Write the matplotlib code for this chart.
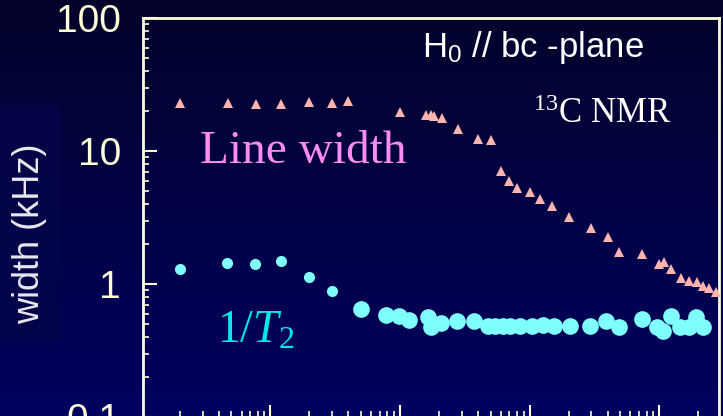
import matplotlib
matplotlib.use('Agg')
import matplotlib.pyplot as plt
import numpy as np
from matplotlib.patches import Rectangle

plt.rcParams['mathtext.fontset'] = 'custom'
plt.rcParams['mathtext.rm'] = 'Liberation Serif'
plt.rcParams['mathtext.it'] = 'Liberation Serif:italic'
plt.rcParams['mathtext.sf'] = 'Liberation Sans'

# line width (triangles)
lw_temp = [0.02, 0.047, 0.077, 0.12, 0.2, 0.3, 0.4, 1.0, 1.6, 1.75, 1.83, 2.1, 2.8,
           4.0, 5.0, 6.0, 7.0, 8.0, 10, 12, 15, 20, 30, 40, 49, 74, 99, 109, 123,
           148, 171, 195, 220, 244, 275]
lw_width = [22.8, 22.8, 22.4, 22.4, 23.2, 22.8, 23.6, 19.7, 18.8, 18.5, 18.3, 17.6, 14.6,
            12.3, 12.1, 7.1, 6.0, 5.3, 4.9, 4.33, 3.86, 3.21, 2.65, 2.24, 1.75, 1.68, 1.41,
            1.47, 1.30, 1.11, 1.05, 1.03, 0.97, 0.94, 0.87]

# 1/T2 (circles), small markers at low T
t2_temp_lo = [0.02, 0.046, 0.076, 0.12, 0.2, 0.3]
t2_rate_lo = [1.29, 1.45, 1.41, 1.50, 1.13, 0.886]
t2_temp_hi = [0.5, 0.78, 0.99, 1.17, 1.65, 1.73, 2.07, 2.74, 3.76,
              4.78, 5.42, 6.24, 7.07, 8.45, 10.5, 12.7, 15.5, 20.5, 29.3,
              39.0, 49.1, 73.5, 97.0, 107, 123, 145, 171, 193, 220]
t2_rate_hi = [0.649, 0.585, 0.574, 0.536, 0.562, 0.472, 0.507, 0.527, 0.523,
              0.48, 0.48, 0.486, 0.486, 0.486, 0.486, 0.49, 0.486, 0.486, 0.486,
              0.530, 0.478, 0.546, 0.478, 0.446, 0.575, 0.478, 0.478, 0.562, 0.478]

y_ticks = [0.1, 1, 10, 100]
y_ticklabels = ['0.1', '1', '10', '100']

W, H = 723, 416
fig = plt.figure(figsize=(W / 100, H / 100), dpi=100)

# gradient background
bg = fig.add_axes([0, 0, 1, 1], zorder=-2)
top = np.array([3, 3, 42]) / 255
bot = np.array([0, 0, 96]) / 255
t = np.linspace(0, 1, 256)[:, None]
grad = top + (bot - top) * t
bg.imshow(grad[:, None, :].repeat(2, axis=1), aspect='auto', extent=[0, 1, 0, 1])
bg.set_xlim(0, 1)
bg.set_ylim(0, 1)
bg.axis('off')
bg.add_patch(Rectangle((0, 1 - 342 / H), 61 / W, (342 - 105) / H,
                       facecolor='#05054a', edgecolor='none', alpha=0.8))

ax = fig.add_axes([143 / W, -1 / H, (719 - 143) / W, (417 - 18) / H])
ax.patch.set_alpha(0)
ax.set_xscale('log')
ax.set_yscale('log')
ax.set_xlim(0.0104, 290)
ax.set_ylim(0.1, 100)

ax.plot(lw_temp, lw_width, '^', color='#ffb4b0', ms=7.5, mew=0, zorder=3)
ax.plot(t2_temp_lo, t2_rate_lo, 'o', color='#80ffff', ms=8, mew=0, zorder=3)
ax.plot(t2_temp_hi, t2_rate_hi, 'o', color='#80ffff', ms=12, mew=0, zorder=3)

cream = '#fffcd8'
for s in ax.spines.values():
    s.set_color(cream)
    s.set_linewidth(2)
ax.set_yticks(y_ticks)
ax.set_yticklabels(y_ticklabels)
ax.tick_params(axis='y', which='major', direction='in', length=10, width=1.5,
               color=cream, labelcolor=cream, labelsize=28, pad=16)
ax.tick_params(axis='y', which='minor', direction='in', length=4.5, width=1.2, color=cream)
# x tick labels fall below the cropped picture
ax.tick_params(axis='x', which='major', direction='in', length=9, width=1.5,
               color=cream, labelbottom=False)
ax.tick_params(axis='x', which='minor', direction='in', length=4, width=1.2, color=cream)
for lab in ax.get_yticklabels():
    lab.set_fontfamily('Liberation Sans')

fig.text(30 / W, 1 - 234 / H, 'width (kHz)', rotation=90, color='#e8e8ee',
         fontsize=26, family='Liberation Sans', ha='center', va='center')

fig.text(422 / W, 1 - 57 / H, r'H$_\mathsf{0}$ // bc -plane', color='white',
         fontsize=25, family='Liberation Sans', ha='left', va='baseline')
fig.text(533 / W, 1 - 123 / H, r'$^{13}$C NMR', color='white',
         fontsize=25, family='Liberation Serif', ha='left', va='baseline')
fig.text(200 / W, 1 - 163 / H, 'Line width', color='#ff8cf0',
         fontsize=34, family='Liberation Serif', ha='left', va='baseline')
fig.text(217 / W, 1 - 343 / H, r'1/$\mathit{T}_\mathrm{2}$', color='#00e8e8',
         fontsize=33, family='Liberation Serif', ha='left', va='baseline')

fig.savefig('out.png', dpi=100, facecolor=fig.get_facecolor())
